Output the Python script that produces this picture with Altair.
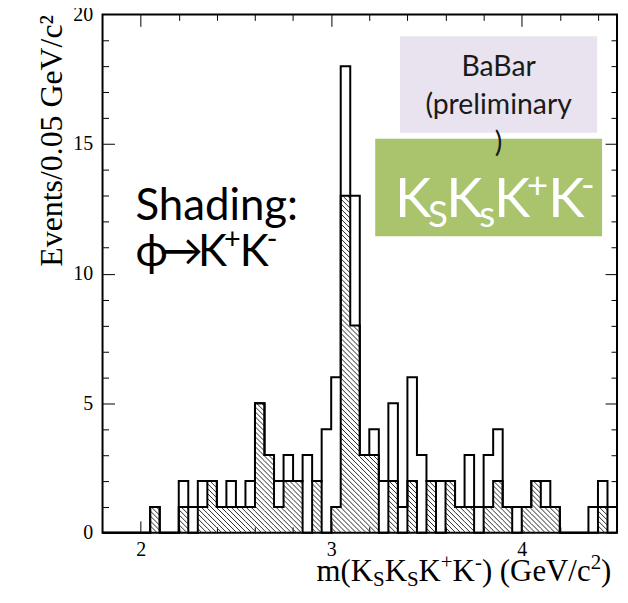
import altair as alt
import pandas as pd
import numpy as np

# ---------------- data ----------------
# bins of 0.05 GeV/c^2 starting at 1.80 GeV/c^2 (54 bins up to 4.50)
BIN_LO = 1.8
BIN_W = 0.05
X_MAX = 4.5
total_counts = [0, 0, 0, 0, 0, 1, 0, 0, 2, 1, 2, 2, 1, 2, 1, 2, 5, 3, 2, 3,
                2, 3, 2, 4, 6, 18, 13, 3, 4, 2, 5, 1, 6, 3, 2, 2, 2, 1, 3, 1,
                3, 4, 1, 1, 1, 2, 2, 1, 0, 0, 0, 1, 2, 1]
phi_counts = [0, 0, 0, 0, 0, 1, 0, 0, 1, 0, 1, 2, 1, 1, 1, 1, 5, 3, 1, 2,
              2, 0, 2, 0, 1, 13, 8, 3, 3, 0, 2, 0, 2, 0, 2, 0, 2, 1, 1, 0,
              1, 2, 1, 0, 1, 2, 1, 1, 0, 0, 0, 0, 1, 0]

x_major = [2, 3, 4]
x_minor = [2.2, 2.4, 2.6, 2.8, 3.2, 3.4, 3.6, 3.8, 4.2, 4.4]
y_labels = [0, 5, 10, 15, 20]
y_major = [5, 10, 15]
y_minor = [1, 2, 3, 4, 6, 7, 8, 9, 11, 12, 13, 14, 16, 17, 18, 19]

Y_TITLE = "Events/0.05 GeV/c²"

# ---------------- layout ----------------
W, H = 517, 521
SERIF = "Liberation Serif"
SANS = "Lato"

n = len(total_counts)
edges = [BIN_LO + BIN_W * k for k in range(n)]
hist = pd.DataFrame({
    "x": edges + [X_MAX],
    "total": total_counts + [0],
    "phi": phi_counts + [0],
})

# hatch lines (45 deg, "\\\\") clipped to the shaded bins
sx = W / (X_MAX - BIN_LO)
sy = H / 20.0
SP = 5.0
rows = []
for k, h in enumerate(phi_counts):
    if h <= 0:
        continue
    X0 = k * BIN_W * sx
    X1 = (k + 1) * BIN_W * sx
    Ht = h * sy
    c = np.floor(X0 / SP) * SP
    while c <= X1 + Ht:
        pa = max(X0, c - Ht)
        pb = min(X1, c)
        if pb - pa > 0.05:
            rows.append({"x": BIN_LO + pa / sx, "y": (c - pa) / sy,
                         "x2": BIN_LO + pb / sx, "y2": (c - pb) / sy})
        c += SP
hatch = pd.DataFrame(rows)

xs = alt.Scale(domain=[BIN_LO, X_MAX], nice=False, zero=False)
ys = alt.Scale(domain=[0, 20], nice=False, zero=False)


def tick_axis(orient, values, size):
    return alt.Axis(orient=orient, values=values, labels=False, domain=False,
                    grid=False, ticks=True, tickSize=size, tickColor="black",
                    tickWidth=1, offset=-size)


# total histogram outline (with label axes)
total_line = alt.Chart(hist).mark_line(
    interpolate="step-after", color="black", strokeWidth=2, strokeJoin="miter"
).encode(
    x=alt.X("x:Q", scale=xs, title=None,
            axis=alt.Axis(orient="bottom", values=x_major, ticks=False, domain=False,
                          grid=False, labelFont=SERIF, labelFontSize=20,
                          labelColor="black", labelPadding=7, labelFlush=False)),
    y=alt.Y("total:Q", scale=ys, title=Y_TITLE,
            axis=alt.Axis(orient="left", values=y_labels, ticks=False, domain=False,
                          grid=False, labelFont=SERIF, labelFontSize=20,
                          labelColor="black", labelPadding=10, labelFlush=False,
                          titleFont=SERIF, titleFontSize=32, titleFontWeight="normal",
                          titleColor="black", titleX=-41, titleY=0, titleAngle=270,
                          titleAlign="right", titleBaseline="alphabetic")),
)

phi_line = alt.Chart(hist).mark_line(
    interpolate="step-after", color="black", strokeWidth=2, strokeJoin="miter"
).encode(
    x=alt.X("x:Q", scale=xs, title=None, axis=tick_axis("bottom", x_major, 12)),
    y=alt.Y("phi:Q", scale=ys, title=None, axis=tick_axis("left", y_major, 12)),
)

hatch_rules = alt.Chart(hatch).mark_rule(color="#2a2a2a", strokeWidth=1).encode(
    x=alt.X("x:Q", scale=xs, title=None, axis=tick_axis("bottom", x_minor, 6)),
    y=alt.Y("y:Q", scale=ys, title=None, axis=tick_axis("left", y_minor, 6)),
    x2="x2:Q",
    y2="y2:Q",
)

dummy_major = alt.Chart(hist).mark_line(opacity=0).encode(
    x=alt.X("x:Q", scale=xs, title=None, axis=tick_axis("top", x_major, 12)),
    y=alt.Y("total:Q", scale=ys, title=None, axis=tick_axis("right", y_major, 12)),
)
dummy_minor = alt.Chart(hist).mark_line(opacity=0).encode(
    x=alt.X("x:Q", scale=xs, title=None, axis=tick_axis("top", x_minor, 6)),
    y=alt.Y("total:Q", scale=ys, title=None, axis=tick_axis("right", y_minor, 6)),
)

ONE = pd.DataFrame({"i": [0]})


def piece(text, x, y, size, font, color="black", align="left"):
    return alt.Chart(ONE).mark_text(
        text=text, font=font, fontSize=size, color=color, align=align,
        baseline="alphabetic"
    ).encode(x=alt.value(x), y=alt.value(y))


def box(x1, y1, x2, y2, color):
    return alt.Chart(ONE).mark_rect(color=color).encode(
        x=alt.value(x1), x2=alt.value(x2), y=alt.value(y1), y2=alt.value(y2))


layers = [hatch_rules, phi_line, total_line, dummy_major, dummy_minor]

# annotation boxes
layers.append(box(299, 22, 497, 119, "#E8E3EE"))
layers.append(box(274, 125, 502, 223, "#A9C46C"))

# BaBar (preliminary)
layers.append(piece("BaBar", 398, 62, 28.5, SANS, "#1a1a1a", "center"))
layers.append(piece("(preliminary", 398, 100, 28.5, SANS, "#1a1a1a", "center"))
layers.append(piece(")", 398, 138, 28.5, SANS, "#1a1a1a", "center"))

# KsKsK+K- in the green box (sequential layout with approx. Lato advances)
LATO = {"K": 0.60, "S": 0.50, "s": 0.40, "+": 0.58, "-": 0.36}
G_BASE, G_SUB, G_SUP = 204, 214, 185
BIG, SM = 55, 37
gx = 294.0
for t, kind in [("K", "n"), ("S", "sub"), ("K", "n"), ("s", "sub"),
                ("K", "n"), ("+", "sup"), ("K", "n"), ("-", "sup")]:
    yy = G_BASE if kind == "n" else (G_SUB if kind == "sub" else G_SUP)
    sz = BIG if kind == "n" else SM
    layers.append(piece(t, round(gx, 1), yy, sz, SANS, "white"))
    gx += LATO[t] * sz

# Shading: phi -> K+K-
layers.append(piece("Shading:", 33, 207, 44, SANS))
for t, x, kind in [("ϕ", 33, "n"), ("→", 57, "n"), ("K", 96, "n"), ("+", 122, "sup"),
                   ("K", 138, "n"), ("-", 165, "sup")]:
    yy = 253 if kind == "n" else 236
    sz = 44 if kind == "n" else 29
    layers.append(piece(t, x, yy, sz, SANS))

# x-axis title m(KsKsK+K-) (GeV/c^2), composed of pieces
TIMES = {"m": 0.778, "(": 0.333, ")": 0.333, "K": 0.722, "S": 0.556, "+": 0.564,
         "-": 0.333, " ": 0.25, "G": 0.722, "e": 0.444, "V": 0.722, "/": 0.278,
         "c": 0.444, "2": 0.5}
MAIN, SMALL = 31, 21
XT_BASE, XT_SUB, XT_SUP = 569, 574, 557
cur = 215.0
for t, kind in [("m(K", "n"), ("S", "sub"), ("K", "n"), ("S", "sub"), ("K", "n"),
                ("+", "sup"), ("K", "n"), ("-", "sup"), (") (GeV/c", "n"),
                ("2", "sup"), (")", "n")]:
    sz = MAIN if kind == "n" else SMALL
    yy = XT_BASE if kind == "n" else (XT_SUB if kind == "sub" else XT_SUP)
    layers.append(piece(t, round(cur, 1), yy, sz, SERIF))
    cur += sum(TIMES[ch] for ch in t) * sz

chart = alt.layer(*layers).resolve_axis(
    x="independent", y="independent"
).properties(
    width=W, height=H,
    autosize=alt.AutoSizeParams(type="none"),
    padding={"left": 95, "top": 5, "right": 3, "bottom": 56},
).configure_view(
    stroke="black", strokeWidth=2
).configure_axis(grid=False)

chart.save("out.html", embed_options={"renderer": "svg", "actions": False})
